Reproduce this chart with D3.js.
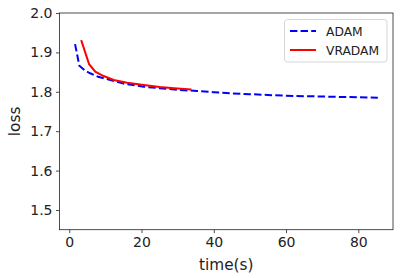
<!DOCTYPE html>
<html><head><meta charset="utf-8">
<script src="https://cdn.jsdelivr.net/npm/d3@7"></script>
<style>body{margin:0;background:#fff}svg{display:block}text{font-family:"DejaVu Sans",sans-serif}</style>
</head><body><svg id="c" width="400" height="278"></svg>
<script>
const adamX = [1.6, 2.8, 4.5, 5.8, 8, 11.4, 15, 20.6, 25, 30, 35.4, 40, 45, 50, 55, 60, 65, 70, 75, 80, 85.4];
const adamY = [1.921, 1.866, 1.853, 1.847, 1.838, 1.830, 1.821, 1.813, 1.809, 1.805, 1.802, 1.799, 1.796, 1.794, 1.792, 1.790, 1.789, 1.788, 1.787, 1.786, 1.785];
const vrX = [3.3, 5.5, 7.2, 9.5, 12.3, 16, 20.6, 25, 29, 33.8];
const vrY = [1.931, 1.870, 1.851, 1.840, 1.830, 1.823, 1.817, 1.812, 1.809, 1.806];
const xTicks = [0, 20, 40, 60, 80];
const yTicks = [1.5, 1.6, 1.7, 1.8, 1.9, 2.0];
const seriesNames = ["ADAM", "VRADAM"];

const svg = d3.select("#c");
const L = 59.5, R = 393, T = 13, B = 229.7;
const x = d3.scaleLinear().domain([-2.7, 89.6]).range([L, R]);
const y = d3.scaleLinear().domain([1.45, 2.0]).range([B, T]);

const gx = svg.append("g").attr("transform", `translate(0,${B})`)
  .call(d3.axisBottom(x).tickValues(xTicks).tickSize(3.5).tickPadding(3.5).tickFormat(d3.format("d")));
const gy = svg.append("g").attr("transform", `translate(${L},0)`)
  .call(d3.axisLeft(y).tickValues(yTicks).tickSize(3.5).tickPadding(3.5).tickFormat(d3.format(".1f")));
[gx, gy].forEach(g => {
  g.select(".domain").remove();
  g.selectAll("line").attr("stroke", "#222").attr("stroke-width", 0.8);
  g.selectAll("text").attr("font-size", 14).attr("fill", "#222").attr("font-family", "DejaVu Sans");
});
svg.append("rect").attr("x", L).attr("y", T).attr("width", R - L).attr("height", B - T)
  .attr("fill", "none").attr("stroke", "#222").attr("stroke-width", 0.8);

const line = d3.line().x(d => x(d[0])).y(d => y(d[1]));
svg.append("path").datum(adamX.map((v, i) => [v, adamY[i]]))
  .attr("d", line).attr("fill", "none").attr("stroke", "#0000ff").attr("stroke-width", 2)
  .attr("stroke-dasharray", "7.4,3.2");
svg.append("path").datum(vrX.map((v, i) => [v, vrY[i]]))
  .attr("d", line).attr("fill", "none").attr("stroke", "#ff0000").attr("stroke-width", 2);

svg.append("text").attr("x", (L + R) / 2).attr("y", 270).attr("text-anchor", "middle")
  .attr("font-size", 15.3).attr("fill", "#222").text("time(s)");
svg.append("text").attr("transform", `translate(20,${(T + B) / 2}) rotate(-90)`).attr("text-anchor", "middle")
  .attr("font-size", 15.3).attr("fill", "#222").text("loss");

// legend
const lg = svg.append("g");
lg.append("rect").attr("x", 284.5).attr("y", 19.5).attr("width", 102.5).attr("height", 42.5)
  .attr("rx", 3).attr("fill", "#fff").attr("fill-opacity", 0.8).attr("stroke", "#ccc").attr("stroke-width", 0.8);
const colors = ["#0000ff", "#ff0000"];
const dashes = ["7.4,3.2", null];
seriesNames.forEach((n, i) => {
  const yy = 31 + i * 19;
  lg.append("line").attr("x1", 290).attr("x2", 316).attr("y1", yy).attr("y2", yy)
    .attr("stroke", colors[i]).attr("stroke-width", 2).attr("stroke-dasharray", dashes[i]);
  lg.append("text").attr("x", 326).attr("y", yy + 4.5).attr("font-size", 12.3).attr("fill", "#222").text(n);
});
</script></body></html>
